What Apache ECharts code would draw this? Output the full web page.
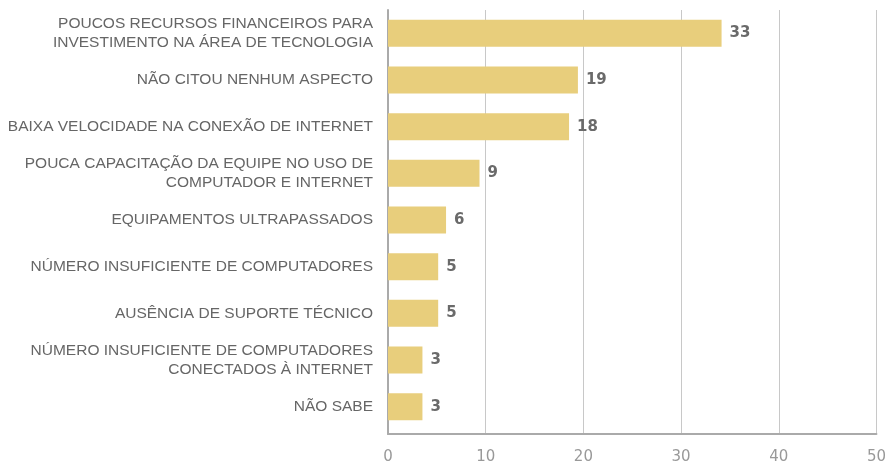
<!DOCTYPE html>
<html>
<head>
<meta charset="utf-8">
<script src="https://cdn.jsdelivr.net/npm/echarts@6/dist/echarts.min.js"></script>
<style>
  html, body { margin: 0; padding: 0; background: #fff; }
  #chart { width: 889px; height: 465px; }
</style>
</head>
<body>
<div id="chart"></div>
<script>
// categorias, de cima para baixo
const categories = [
  'POUCOS RECURSOS FINANCEIROS PARA\nINVESTIMENTO NA ÁREA DE TECNOLOGIA',
  'NÃO CITOU NENHUM ASPECTO',
  'BAIXA VELOCIDADE NA CONEXÃO DE INTERNET',
  'POUCA CAPACITAÇÃO DA EQUIPE NO USO DE\nCOMPUTADOR E INTERNET',
  'EQUIPAMENTOS ULTRAPASSADOS',
  'NÚMERO INSUFICIENTE DE COMPUTADORES',
  'AUSÊNCIA DE SUPORTE TÉCNICO',
  'NÚMERO INSUFICIENTE DE COMPUTADORES\nCONECTADOS À INTERNET',
  'NÃO SABE'
];
// comprimento das barras (estimado da imagem) e rótulos exibidos
const values = [33.9, 19.3, 18.4, 9.3, 5.9, 5.1, 5.1, 3.5, 3.5];
const valueLabels = ['33', '19', '18', '9', '6', '5', '5', '3', '3'];
const xTicks = [0, 10, 20, 30, 40, 50];

const barColor = '#E8CE7C';
const catFont = '"Liberation Sans", Arial, sans-serif';
const numFont = '"DejaVu Sans", sans-serif';

let myChart = echarts.init(document.getElementById('chart'), null, { renderer: 'canvas' });

let option = {
  animation: false,
  grid: [
    // barras
    { left: 388, right: 9, top: 10, bottom: 35 },
    // eixos e linhas de grade
    { left: 388, right: 9, top: 10, bottom: 28 }
  ],
  xAxis: [
    {
      gridIndex: 0,
      type: 'value',
      min: xTicks[0],
      max: xTicks[xTicks.length - 1],
      interval: 10,
      show: false
    },
    {
      gridIndex: 1,
      type: 'value',
      min: xTicks[0],
      max: xTicks[xTicks.length - 1],
      interval: 10,
      axisLine: { show: true, lineStyle: { color: '#aaa', width: 2 } },
      axisTick: { show: false },
      splitLine: { show: true, lineStyle: { color: '#c8c8c8', width: 1 } },
      axisLabel: {
        margin: 16,
        color: '#999',
        fontSize: 15,
        fontFamily: numFont
      }
    }
  ],
  yAxis: [
    {
      gridIndex: 0,
      type: 'category',
      inverse: true,
      data: categories,
      axisLine: { show: false },
      axisTick: { show: false },
      axisLabel: {
        margin: 15,
        color: '#666',
        fontSize: 15.5,
        lineHeight: 19,
        fontFamily: catFont
      }
    },
    {
      gridIndex: 1,
      type: 'value',
      min: 0,
      max: 1,
      axisLine: { show: true, lineStyle: { color: '#aaa', width: 2 } },
      axisTick: { show: false },
      axisLabel: { show: false },
      splitLine: { show: false }
    }
  ],
  series: [
    {
      type: 'bar',
      xAxisIndex: 0,
      yAxisIndex: 0,
      data: values,
      barWidth: 27,
      itemStyle: { color: barColor },
      label: {
        show: true,
        position: 'right',
        distance: 8,
        color: '#6a6a6a',
        fontSize: 15,
        fontWeight: 'bold',
        fontFamily: numFont,
        formatter: function (p) {
          return valueLabels[p.dataIndex];
        }
      }
    }
  ]
};

myChart.setOption(option);
</script>
</body>
</html>
